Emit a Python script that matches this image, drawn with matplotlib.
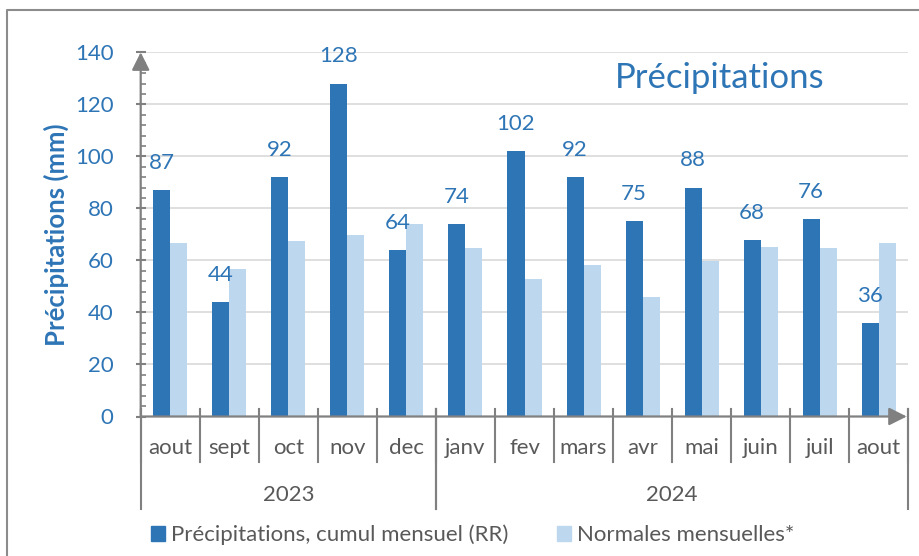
"""Monthly precipitation vs normals, Aug 2023 - Aug 2024."""
import matplotlib
matplotlib.use("Agg")
import matplotlib.pyplot as plt
from matplotlib.lines import Line2D
from matplotlib.patches import Patch
from matplotlib.ticker import MultipleLocator

BLUE = "#2E75B6"
LIGHT = "#BDD7EE"
GREY_TXT = "#595959"
AXIS_GREY = "#808080"
GRID = "#D9D9D9"

months = ["aout", "sept", "oct", "nov", "dec", "janv", "fev", "mars",
          "avr", "mai", "juin", "juil", "aout"]
precip = [87, 44, 92, 128, 64, 74, 102, 92, 75, 88, 68, 76, 36]
normals = [66.7, 56.7, 67.5, 69.8, 74.0, 64.7, 52.9, 58.3, 46.1, 59.9,
           65.1, 64.8, 66.7]
years = ["2023", "2024"]
year_spans = [(0, 4), (5, 12)]   # first and last month index of each year

plt.rcParams["font.family"] = ["Lato", "DejaVu Sans"]

fig = plt.figure(figsize=(9.2, 5.56), dpi=100)
W, H = 920, 556
ax = fig.add_axes([140.7 / W, 1 - 416.5 / H, 767.6 / W, 364.2 / H])

x = list(range(len(months)))
bw = 0.288
ax.bar([i - bw / 2 for i in x], precip, width=bw, color=BLUE, zorder=3)
ax.bar([i + bw / 2 for i in x], normals, width=bw, color=LIGHT, zorder=3)

for i, v in zip(x, precip):
    ax.annotate(str(v), xy=(i - bw / 2, v), xytext=(0, 19.5),
                textcoords="offset points", ha="center", va="center",
                fontsize=16, color=BLUE)

ax.set_xlim(-0.5, len(months) - 0.5)
ax.set_ylim(0, 140)
ax.yaxis.set_major_locator(MultipleLocator(20))
ax.yaxis.set_minor_locator(MultipleLocator(4))
ax.grid(axis="y", color=GRID, linewidth=1.2, zorder=0)
ax.set_axisbelow(True)
for s in ax.spines.values():
    s.set_visible(False)
ax.tick_params(axis="y", which="major", direction="inout", length=7,
               width=1.5, color=AXIS_GREY, labelcolor=BLUE, labelsize=16,
               pad=16)
ax.tick_params(axis="y", which="minor", direction="in", length=3.5,
               width=1.2, color=AXIS_GREY)
ax.set_xticks([])
ax.set_ylabel("Précipitations (mm)", fontsize=18.5, fontweight="bold",
              color=BLUE, labelpad=4)

# axes with arrow heads
arrow = dict(arrowstyle="-|>,head_length=1.08,head_width=0.54",
             mutation_scale=10, color=AXIS_GREY, lw=1.6, shrinkA=0, shrinkB=0)
ax.annotate("", xy=(0, 1), xytext=(0, 0), xycoords="axes fraction",
            arrowprops=arrow, annotation_clip=False)
ax.annotate("", xy=(0.998, 0), xytext=(0, 0), xycoords="axes fraction",
            arrowprops=arrow, annotation_clip=False)

# category separators and labels
tr = ax.get_xaxis_transform()
top = 8 / 364.2
for k in range(len(months) + 1):
    ax.add_line(Line2D([k - 0.5, k - 0.5], [top, -45.5 / 364.2],
                       transform=tr, color=AXIS_GREY, lw=1.5, clip_on=False))
for i, m in enumerate(months):
    ax.text(i, -31.5 / 364.2, m, transform=tr, ha="center", va="center",
            fontsize=16, color=GREY_TXT)
for yr, (a, b) in zip(years, year_spans):
    for k in (a, b + 1):
        ax.add_line(Line2D([k - 0.5, k - 0.5], [top, -92.5 / 364.2],
                           transform=tr, color=AXIS_GREY, lw=1.5,
                           clip_on=False))
    ax.text((a + b) / 2, -78.5 / 364.2, yr, transform=tr, ha="center",
            va="center", fontsize=16, color=GREY_TXT)

fig.text(720 / W, 1 - 78 / H, "Précipitations", ha="center", va="center",
         fontsize=25, color=BLUE)

handles = [Patch(color=BLUE), Patch(color=LIGHT)]
fig.legend(handles, ["Précipitations, cumul mensuel (RR)",
                     "Normales mensuelles*"],
           loc="center", bbox_to_anchor=(473 / W, 1 - 535 / H), ncol=2,
           frameon=False, fontsize=16, labelcolor=GREY_TXT,
           handlelength=0.6, handleheight=0.6, handletextpad=0.3,
           columnspacing=2.2)

# outer chart frame (left and top edges only visible)
fig.add_artist(Line2D([7.5 / W, 7.5 / W, 1], [0, 1 - 10 / H, 1 - 10 / H],
                      transform=fig.transFigure, color="#8C8C8C", lw=1.5))

fig.savefig("out.png", dpi=100)
